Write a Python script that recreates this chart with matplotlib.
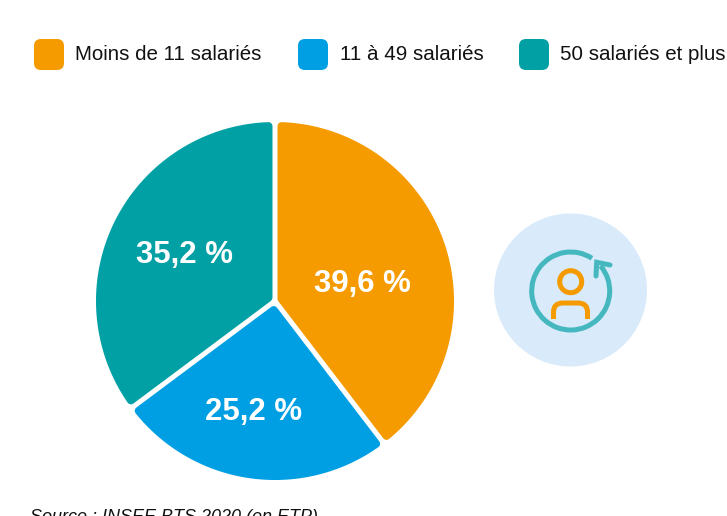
import matplotlib
matplotlib.use("Agg")
import matplotlib.pyplot as plt
from matplotlib.patches import Arc, Circle, FancyBboxPatch, PathPatch, Polygon
from matplotlib.path import Path
import numpy as np

categories = ["Moins de 11 salariés", "11 à 49 salariés", "50 salariés et plus"]
values = [39.6, 25.2, 35.2]
value_labels = ["39,6 %", "25,2 %", "35,2 %"]
colors = ["#F59B00", "#009FE3", "#00A0A5"]
source = "Source : INSEE BTS 2020 (en ETP)"

W, H = 727, 516
FONT = "Liberation Sans"

def fy(y):
    # picture pixels count from the top
    return H - y

fig = plt.figure(figsize=(W / 100, H / 100), dpi=100)
ax = fig.add_axes([0, 0, 1, 1])

# Pie
cx, cy, R = 275, fy(301), 179
corner = 4
gap = 2.5
wedges, _ = ax.pie(values, colors=colors, startangle=90, counterclock=False,
                   center=(cx, cy), radius=R, frame=True)
for w in wedges:
    # inset each slice, a stroke of the same colour gives the round corners
    r = R - corner
    off = gap + corner
    d = np.degrees(np.arcsin(off / r))
    half = np.radians((w.theta2 - w.theta1) / 2)
    mid = np.radians((w.theta1 + w.theta2) / 2)
    apex = off / np.sin(half)
    t = np.radians(np.linspace(w.theta1 + d, w.theta2 - d, 120))
    xs = np.r_[cx + apex * np.cos(mid), cx + r * np.cos(t)]
    ys = np.r_[cy + apex * np.sin(mid), cy + r * np.sin(t)]
    col = w.get_facecolor()
    w.set_visible(False)
    ax.add_patch(Polygon(np.c_[xs, ys], closed=True, facecolor=col, edgecolor=col,
                         linewidth=corner * 2 * 0.72, joinstyle="round"))

label_pos = [(362, 284), (254, 412), (184, 255)]
for lab, (x, y) in zip(value_labels, label_pos):
    ax.text(x, fy(y), lab, color="white", fontsize=22.4, fontweight="bold",
            family=FONT, ha="center", va="center")

# Legend
legend_x = [34, 298, 519]
legend_tx = [75, 340, 560]
for name, col, x, tx in zip(categories, colors, legend_x, legend_tx):
    ax.add_patch(FancyBboxPatch((x, fy(70)), 30, 31, boxstyle="round,pad=0,rounding_size=7",
                                facecolor=col, edgecolor="none"))
    ax.text(tx, fy(55), name, color="#111111", fontsize=14.8, family=FONT,
            ha="left", va="center")

# Icon
ax.add_patch(Circle((570.5, fy(290)), 76.5, facecolor="#D9EAFA", edgecolor="none"))
teal = "#45B8BF"
orange = "#F59B00"
lw = 5 * 0.72
ax.add_patch(Arc((570.7, fy(291)), 78, 78, theta1=57, theta2=400, color=teal, lw=lw))
ax.plot([610, 596.7, 596], [fy(265), fy(262.3), fy(276)], color=teal, lw=lw,
        solid_capstyle="round", solid_joinstyle="miter")
ax.add_patch(Circle((570.7, fy(281.7)), 11, facecolor="none", edgecolor=orange, lw=lw))
body = Path([(553.5, fy(319)), (553.5, fy(312)), (553.5, fy(303)), (563, fy(303)),
             (578, fy(303)), (587.5, fy(303)), (587.5, fy(312)), (587.5, fy(319))],
            [Path.MOVETO, Path.LINETO, Path.CURVE3, Path.CURVE3,
             Path.LINETO, Path.CURVE3, Path.CURVE3, Path.LINETO])
ax.add_patch(PathPatch(body, facecolor="none", edgecolor=orange, lw=lw, capstyle="butt"))

# Source, cut by the bottom edge in the original
ax.text(30, fy(518), source, color="#111111", fontsize=13, style="italic", family=FONT,
        ha="left", va="center")

ax.set_xlim(0, W)
ax.set_ylim(0, H)
ax.set_aspect("equal")
ax.axis("off")

plt.savefig("out.png", dpi=100)
plt.close()
